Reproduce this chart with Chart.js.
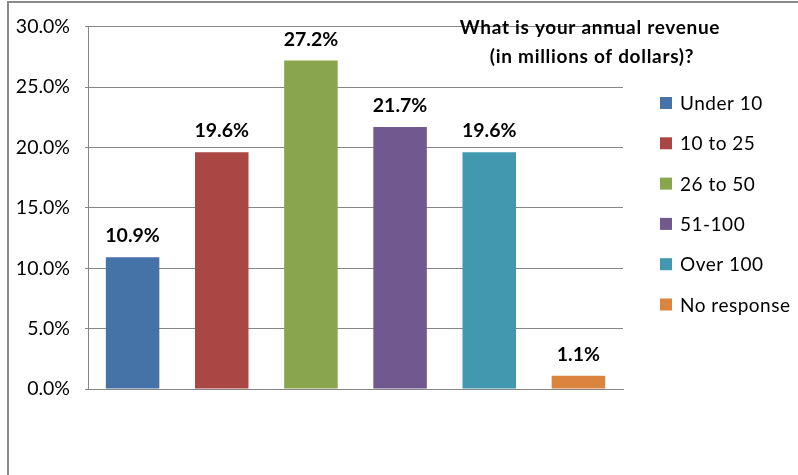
<!DOCTYPE html>
<html>
<head>
<meta charset="utf-8">
<script src="https://cdn.jsdelivr.net/npm/chart.js@4/dist/chart.umd.min.js"></script>
<style>
  html, body { margin: 0; padding: 0; background: #fff; overflow: hidden; }
  #wrap { width: 798px; height: 475px; position: relative; }
</style>
</head>
<body>
<div id="wrap"><canvas id="c" width="798" height="475"></canvas></div>
<script>
// Survey answers: share of respondents per revenue band
const categories = ['Under 10', '10 to 25', '26 to 50', '51-100', 'Over 100', 'No response'];
const shares = [10.9, 19.6, 27.2, 21.7, 19.6, 1.1];
const colors = ['#4572A7', '#AA4643', '#89A54E', '#71588F', '#4198AF', '#DB843D'];
const yTicks = [0, 5, 10, 15, 20, 25, 30];
const titleLines = ['What is your annual revenue', '(in millions of dollars)?'];

const FONT = 'Lato, "Open Sans", sans-serif';
const GRID = '#868686';

// Gray frame around the whole chart
const framePlugin = {
  id: 'frame',
  beforeDraw(chart) {
    const ctx = chart.ctx;
    ctx.save();
    ctx.strokeStyle = '#8a8a8a';
    ctx.lineWidth = 2;
    ctx.strokeRect(8, 2, 1200, 1200);
    ctx.restore();
  }
};

// Bold value labels above each bar
const valueLabels = {
  id: 'valueLabels',
  afterDatasetsDraw(chart) {
    const ctx = chart.ctx;
    const meta = chart.getDatasetMeta(0);
    ctx.save();
    ctx.font = 'bold 19.5px ' + FONT;
    ctx.fillStyle = '#000';
    ctx.textAlign = 'center';
    ctx.textBaseline = 'alphabetic';
    meta.data.forEach((bar, i) => {
      ctx.fillText(shares[i].toFixed(1) + '%', bar.x, bar.y - 15);
    });
    ctx.restore();
  }
};

// Title block and legend on the right
const sideText = {
  id: 'sideText',
  afterDraw(chart) {
    const ctx = chart.ctx;
    ctx.save();
    ctx.fillStyle = '#000';
    ctx.textAlign = 'center';
    ctx.textBaseline = 'alphabetic';
    ctx.font = 'bold 19px ' + FONT;
    ctx.letterSpacing = '0.7px';
    ctx.fillText(titleLines[0], 590, 34);
    ctx.fillText(titleLines[1], 592, 63);

    ctx.font = '19px ' + FONT;
    ctx.letterSpacing = '0.5px';
    ctx.textAlign = 'left';
    ctx.textBaseline = 'middle';
    categories.forEach((name, i) => {
      const cy = 103 + i * 40.3;
      ctx.fillStyle = colors[i];
      ctx.fillRect(660, cy - 6, 12, 12);
      ctx.fillStyle = '#000';
      ctx.fillText(name, 680, cy + 1);
    });
    ctx.restore();
  }
};

new Chart(document.getElementById('c'), {
  type: 'bar',
  data: {
    labels: categories,
    datasets: [{
      data: shares,
      backgroundColor: colors,
      borderWidth: 0,
      barPercentage: 0.6,
      categoryPercentage: 1
    }]
  },
  options: {
    responsive: false,
    animation: false,
    devicePixelRatio: 1,
    layout: { padding: { top: 24, right: 175, left: 0, bottom: 0 } },
    plugins: {
      legend: { display: false },
      title: { display: false },
      tooltip: { enabled: false }
    },
    scales: {
      x: {
        ticks: { display: false },
        grid: { display: false },
        border: { display: true, color: GRID, width: 1 },
        afterFit(s) { s.height = 475 - 389; }
      },
      y: {
        min: 0,
        max: 30,
        afterBuildTicks(s) { s.ticks = yTicks.map(v => ({ value: v })); },
        ticks: {
          padding: 15,
          color: '#000',
          font: { family: FONT, size: 19.5 },
          callback: v => Number(v).toFixed(1) + '%'
        },
        grid: { color: GRID, lineWidth: 1, tickLength: 3, drawTicks: true },
        border: { display: true, color: GRID, width: 1 },
        afterFit(s) { s.width = 88; }
      }
    }
  },
  plugins: [framePlugin, valueLabels, sideText]
});
</script>
</body>
</html>
